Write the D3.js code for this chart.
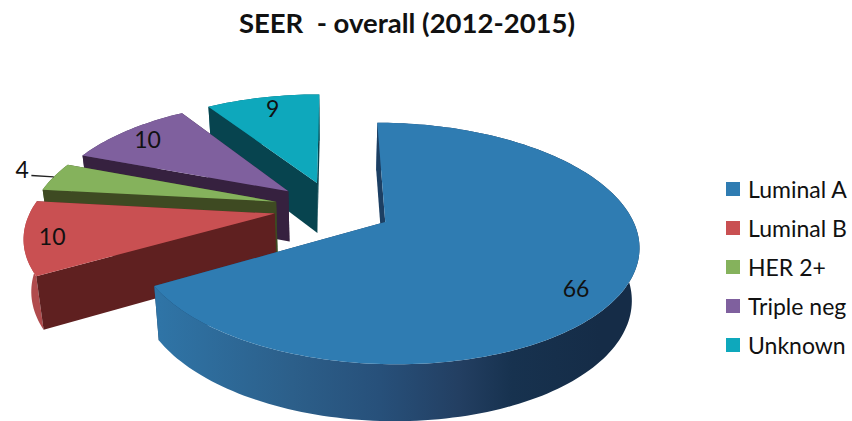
<!DOCTYPE html>
<html>
<head>
<meta charset="utf-8">
<script src="https://cdn.jsdelivr.net/npm/d3@7"></script>
<style>
  html, body { margin: 0; padding: 0; background: #fff; }
  text { font-family: Lato, "Open Sans", sans-serif; fill: #111; }
</style>
</head>
<body>
<div id="chart"></div>
<script>
// values as printed on the slices
const categories = ["Luminal A", "Luminal B", "HER 2+", "Triple neg", "Unknown"];
const shares = [66, 10, 4, 10, 9];

// colours per category
const topColors = ["#2f7cb2", "#c95052", "#85b25c", "#7f609e", "#0ea8bc"];
const wallColors = ["#1c3f63", "#5f2020", "#3e4a22", "#36213f", "#07444f"];
const outerColors = ["url(#blueWall)", "#b04b4d", "#4f6a30", "#4c3a60", "#0a6470"];

const width = 852, height = 421;

// fake 3D settings
const explode = 0.243;    // how far each slice is pulled out
const tilt = 0.175;       // perspective strength
const depth = 51;         // height of the pie
const shrink = 0.975;     // bottom plane is a bit smaller than the top one

const x = d3.scaleLinear().domain([-1, 1]).range([333 - 243, 333 + 243]);
const y = d3.scaleLinear().domain([-1, 1]).range([208 - 112, 208 + 112]);

const svg = d3.select("#chart").append("svg")
    .attr("width", width)
    .attr("height", height);

const grad = svg.append("defs").append("linearGradient")
    .attr("id", "blueWall")
    .attr("gradientUnits", "userSpaceOnUse")
    .attr("x1", 160).attr("x2", 600).attr("y1", 0).attr("y2", 0);
[[0, "#2f74a6"], [0.3, "#2c5f8a"], [0.5, "#27507a"], [0.68, "#233f62"], [0.8, "#17324f"], [1, "#152c47"]]
    .forEach(s => grad.append("stop").attr("offset", s[0]).attr("stop-color", s[1]));

const pie = d3.pie().sort(null);
const slices = pie(shares).map((d, i) => ({...d, i: i, mid: (d.startAngle + d.endAngle) / 2}));

// angle + radius on the pie -> screen position, bottom = true for the lower plane
function project(d, angle, r, bottom) {
  const wx = explode * Math.sin(d.mid) + r * Math.sin(angle);
  const wy = -explode * Math.cos(d.mid) - r * Math.cos(angle);
  const s = 1 / (1 - tilt * wy);
  let px = x(wx * s), py = y(wy * s);
  if (bottom) {
    px = x(0) + (px - x(0)) * shrink;
    py += depth * Math.sqrt(s);
  }
  return [px, py];
}

function arcPoints(d, bottom) {
  const n = Math.ceil((d.endAngle - d.startAngle) * 40);
  return d3.range(n + 1).map(k => {
    const a = d.startAngle + (d.endAngle - d.startAngle) * k / n;
    return project(d, a, 1, bottom);
  });
}

const line = d3.line();

function radialWall(d, angle) {
  return line([
    project(d, angle, 0, false), project(d, angle, 1, false),
    project(d, angle, 1, true), project(d, angle, 0, true)
  ]) + "Z";
}

// paint from the back slice to the front one
const order = slices.slice().reverse();

const groups = svg.selectAll("g.slice")
    .data(order)
    .join("g")
    .attr("class", "slice");

// radial wall on the end side
groups.append("path")
    .attr("fill", d => wallColors[d.i])
    .attr("d", d => radialWall(d, d.endAngle));

// curved outer wall
groups.append("path")
    .attr("fill", d => outerColors[d.i])
    .attr("d", d => line(arcPoints(d, false).concat(arcPoints(d, true).reverse())) + "Z");

// radial wall on the start side
groups.append("path")
    .attr("fill", d => wallColors[d.i])
    .attr("d", d => radialWall(d, d.startAngle));

// top face
groups.append("path")
    .attr("fill", d => topColors[d.i])
    .attr("d", d => line([project(d, d.startAngle, 0, false)].concat(arcPoints(d, false))) + "Z");

// data labels: radius and small angle shift (degrees) from the slice middle
const labelRadius = [0.85, 0.89, 1.17, 0.86, 0.85];
const labelShift = [7, -0.7, 2, 0, 1];

svg.selectAll("text.value")
    .data(slices)
    .join("text")
    .attr("class", "value")
    .attr("text-anchor", "middle")
    .attr("dominant-baseline", "central")
    .attr("font-size", 23)
    .attr("transform", d => {
      const p = project(d, d.mid + labelShift[d.i] * Math.PI / 180, labelRadius[d.i], false);
      return `translate(${p[0]},${p[1]})`;
    })
    .text(d => d.data);

// leader line for the small slice
const her = slices[2];
svg.append("path")
    .attr("fill", "none")
    .attr("stroke", "#222")
    .attr("stroke-width", 1.3)
    .attr("d", line([
      project(her, her.mid - 0.01, 1.1, false),
      project(her, her.mid, 1.0, false)
    ]));

// title
svg.append("text")
    .attr("x", 407)
    .attr("y", 33)
    .attr("text-anchor", "middle")
    .attr("font-size", 27.5)
    .attr("font-weight", 700)
    .style("white-space", "pre")
    .text("SEER  - overall (2012-2015)");

// legend
const legendY = d3.scalePoint().domain(categories).range([189, 345]);
const legend = svg.selectAll("g.legend")
    .data(categories)
    .join("g")
    .attr("class", "legend")
    .attr("transform", d => `translate(726,${legendY(d)})`);

legend.append("rect")
    .attr("y", -7)
    .attr("width", 14)
    .attr("height", 14)
    .attr("fill", (d, i) => topColors[i]);

legend.append("text")
    .attr("x", 22)
    .attr("dominant-baseline", "central")
    .attr("font-size", 23)
    .text(d => d);
</script>
</body>
</html>
